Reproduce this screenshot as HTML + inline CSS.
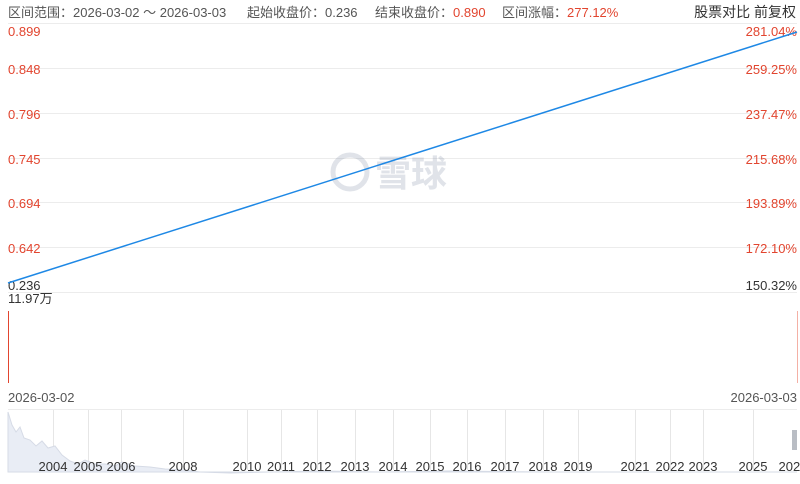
<!DOCTYPE html>
<html><head><meta charset="utf-8"><style>
body{margin:0;width:800px;height:479px;background:#fff;overflow:hidden;font-family:"Liberation Sans","Noto Sans CJK SC",sans-serif;}
svg text{font-family:"Liberation Sans","Noto Sans CJK SC",sans-serif;}
</style></head><body>
<svg width="800" height="479" xmlns="http://www.w3.org/2000/svg">
<g stroke="#ececec" stroke-width="1">
<line x1="8" y1="23.5" x2="797" y2="23.5"/>
<line x1="8" y1="68.5" x2="797" y2="68.5"/>
<line x1="8" y1="113.5" x2="797" y2="113.5"/>
<line x1="8" y1="158.5" x2="797" y2="158.5"/>
<line x1="8" y1="202.5" x2="797" y2="202.5"/>
<line x1="8" y1="247.5" x2="797" y2="247.5"/>
<line x1="8" y1="292.5" x2="797" y2="292.5"/>
<line x1="8" y1="409.5" x2="797" y2="409.5"/>
</g>
<g font-size="13" fill="#555">
<text x="8" y="17">区间范围：2026-03-02 ～ 2026-03-03</text>
<text x="247" y="17">起始收盘价：0.236</text>
<text x="375" y="17">结束收盘价：<tspan fill="#e2452f">0.890</tspan></text>
<text x="502" y="17">区间涨幅：<tspan fill="#e2452f">277.12%</tspan></text>
<text x="796" y="17" text-anchor="end" font-size="14" fill="#333">股票对比 前复权</text>
</g>
<g font-size="13" fill="#e2452f">
<text x="8" y="36">0.899</text><text x="8" y="74">0.848</text><text x="8" y="119">0.796</text>
<text x="8" y="164">0.745</text><text x="8" y="208">0.694</text><text x="8" y="253">0.642</text>
</g>
<g font-size="13" fill="#e2452f" text-anchor="end">
<text x="797" y="36">281.04%</text><text x="797" y="74">259.25%</text><text x="797" y="119">237.47%</text>
<text x="797" y="164">215.68%</text><text x="797" y="208">193.89%</text><text x="797" y="253">172.10%</text>
</g>
<text x="797" y="290" font-size="13" fill="#333" text-anchor="end">150.32%</text>
<text x="8" y="290" font-size="13" fill="#333">0.236</text>
<text x="8" y="303" font-size="13" fill="#333">11.97万</text>
<g opacity="0.18" fill="#5a6a8a">
<circle cx="350" cy="172" r="17" fill="none" stroke="#5a6a8a" stroke-width="5"/>
<text x="375" y="186" font-size="36" font-weight="bold">雪球</text>
</g>
<line x1="8" y1="283" x2="797" y2="32" stroke="#1e88e5" stroke-width="1.5"/>
<line x1="8.5" y1="311" x2="8.5" y2="383" stroke="#e2452f" stroke-width="1"/>
<line x1="797.5" y1="311" x2="797.5" y2="383" stroke="#f4b0a5" stroke-width="1"/>
<text x="8" y="402" font-size="13" fill="#555">2026-03-02</text>
<text x="797" y="402" font-size="13" fill="#555" text-anchor="end">2026-03-03</text>
<g stroke="#e6e6e6">
<line x1="53.5" y1="410" x2="53.5" y2="470"/><line x1="88.5" y1="410" x2="88.5" y2="470"/><line x1="121.5" y1="410" x2="121.5" y2="470"/>
<line x1="183.5" y1="410" x2="183.5" y2="470"/><line x1="247.5" y1="410" x2="247.5" y2="470"/><line x1="281.5" y1="410" x2="281.5" y2="470"/>
<line x1="317.5" y1="410" x2="317.5" y2="470"/><line x1="355.5" y1="410" x2="355.5" y2="470"/><line x1="393.5" y1="410" x2="393.5" y2="470"/>
<line x1="430.5" y1="410" x2="430.5" y2="470"/><line x1="467.5" y1="410" x2="467.5" y2="470"/><line x1="505.5" y1="410" x2="505.5" y2="470"/>
<line x1="543.5" y1="410" x2="543.5" y2="470"/><line x1="578.5" y1="410" x2="578.5" y2="470"/><line x1="635.5" y1="410" x2="635.5" y2="470"/>
<line x1="670.5" y1="410" x2="670.5" y2="470"/><line x1="703.5" y1="410" x2="703.5" y2="470"/><line x1="753.5" y1="410" x2="753.5" y2="470"/>
</g>
<path d="M8,412 L12,425 L16,432 L20,427 L24,438 L30,440 L36,446 L42,441 L48,448 L55,446 L62,455 L70,461 L78,464 L85,460 L95,464 L105,464 L115,466 L122,462 L135,466 L150,467 L165,469 L185,470 L200,472 L230,473 L270,472 L320,471 L380,472 L450,471 L550,472 L650,472 L797,472 L797,472 L8,472 Z" fill="#e9edf5" stroke="#d6dbe6" stroke-width="1"/>
<rect x="792" y="430" width="5" height="20" fill="#b9bdc4"/>
<g font-size="13" fill="#333" text-anchor="middle">
<text x="53" y="471">2004</text><text x="88" y="471">2005</text><text x="121" y="471">2006</text><text x="183" y="471">2008</text>
<text x="247" y="471">2010</text><text x="281" y="471">2011</text><text x="317" y="471">2012</text><text x="355" y="471">2013</text>
<text x="393" y="471">2014</text><text x="430" y="471">2015</text><text x="467" y="471">2016</text><text x="505" y="471">2017</text>
<text x="543" y="471">2018</text><text x="578" y="471">2019</text><text x="635" y="471">2021</text><text x="670" y="471">2022</text>
<text x="703" y="471">2023</text><text x="753" y="471">2025</text><text x="793" y="471">2026</text>
</g>
</svg>
</body></html>
